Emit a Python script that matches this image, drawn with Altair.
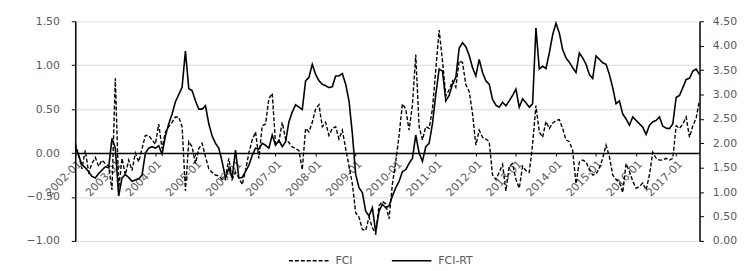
import altair as alt
import pandas as pd

# Monthly observations, 2002-01 .. 2017-08
fci = [
    0.11, -0.02, -0.18, 0.03, -0.22, -0.12, -0.05, -0.15, -0.08, -0.12, -0.15, -0.42,   # 2002
    0.85, -0.40, -0.06, -0.25, -0.08, -0.20, 0.00, -0.10, 0.05, 0.20, 0.20, 0.15,      # 2003
    0.10, 0.33, 0.05, 0.24, 0.30, 0.35, 0.41, 0.41, 0.30, -0.43, 0.13, 0.07,           # 2004
    -0.12, 0.05, 0.11, -0.04, -0.18, -0.22, -0.25, -0.26, -0.30, -0.28, -0.06, -0.30,  # 2005
    -0.22, -0.28, -0.36, -0.20, 0.00, 0.15, 0.24, -0.06, 0.31, 0.33, 0.62, 0.68,       # 2006
    0.10, 0.13, 0.35, 0.16, 0.12, 0.07, 0.05, 0.03, -0.19, 0.28, 0.24, 0.35,           # 2007
    0.50, 0.55, 0.30, 0.35, 0.20, 0.28, 0.30, 0.16, 0.26, 0.05, -0.15, -0.35,          # 2008
    -0.68, -0.73, -0.87, -0.88, -0.73, -0.85, -0.92, -0.60, -0.55, -0.58, -0.75, -0.35,  # 2009
    -0.10, 0.20, 0.56, 0.50, 0.26, 0.55, 1.12, 0.30, 0.15, 0.30, 0.28, 0.50,           # 2010
    0.95, 1.40, 1.05, 0.65, 0.72, 0.82, 0.75, 1.05, 1.03, 0.78, 0.70, 0.45,            # 2011
    0.09, 0.26, 0.18, 0.16, 0.13, -0.25, -0.30, -0.22, -0.13, -0.43, -0.15, -0.12,     # 2012
    -0.30, -0.40, -0.15, -0.20, -0.22, 0.10, 0.54, 0.24, 0.18, 0.36, 0.28, 0.34,       # 2013
    0.37, 0.38, 0.28, 0.15, 0.13, 0.03, -0.35, -0.10, -0.08, -0.10, -0.19, -0.25,      # 2014
    -0.24, -0.17, -0.06, 0.09, -0.04, -0.25, -0.30, -0.33, -0.45, -0.12, -0.21, -0.32,  # 2015
    -0.40, -0.38, -0.34, -0.42, -0.25, 0.01, -0.06, -0.08, -0.08, -0.06, -0.08, -0.06,  # 2016
    0.31, 0.28, 0.33, 0.41, 0.18, 0.31, 0.40, 0.60,                                    # 2017
]
fci_rt = [
    1.93, 1.75, 1.56, 1.50, 1.42, 1.32, 1.29, 1.38, 1.45, 1.52, 1.50, 2.10,  # 2002
    1.90, 0.92, 1.29, 1.36, 1.30, 1.22, 1.25, 1.27, 1.35, 1.80, 1.90, 1.93,  # 2003
    1.90, 1.95, 1.78, 2.15, 2.40, 2.60, 2.85, 3.00, 3.15, 3.89, 3.12, 3.08,  # 2004
    2.87, 2.70, 2.70, 2.77, 2.40, 2.15, 2.00, 1.90, 1.62, 1.29, 1.49, 1.29,  # 2005
    1.86, 1.29, 1.30, 1.42, 1.55, 1.75, 1.90, 1.88, 2.00, 1.96, 1.90, 2.17,  # 2006
    1.96, 2.06, 1.93, 2.03, 2.44, 2.64, 2.79, 2.74, 2.69, 3.28, 3.35, 3.62,  # 2007
    3.41, 3.28, 3.21, 3.18, 3.14, 3.16, 3.38, 3.38, 3.43, 3.21, 2.87, 2.20,  # 2008
    1.36, 1.09, 0.99, 0.61, 0.51, 0.68, 0.18, 0.61, 0.75, 0.68, 0.72, 0.92,  # 2009
    1.09, 1.22, 1.42, 1.46, 1.59, 1.69, 2.17, 1.80, 1.63, 1.93, 2.00, 2.40,  # 2010
    3.00, 3.52, 3.48, 2.87, 2.98, 3.21, 3.35, 3.95, 4.06, 3.98, 3.80, 3.55,  # 2011
    3.38, 3.72, 3.45, 3.28, 3.21, 2.90, 2.78, 2.74, 2.84, 2.77, 2.87, 2.98,  # 2012
    3.11, 2.74, 2.91, 2.83, 2.74, 2.81, 4.36, 3.52, 3.58, 3.53, 3.85, 4.22,  # 2013
    4.46, 4.26, 3.92, 3.75, 3.66, 3.55, 3.45, 3.85, 3.75, 3.62, 3.41, 3.33,  # 2014
    3.79, 3.72, 3.65, 3.62, 3.41, 3.14, 2.81, 2.87, 2.60, 2.50, 2.37, 2.54,  # 2015
    2.47, 2.40, 2.33, 2.18, 2.37, 2.44, 2.47, 2.54, 2.35, 2.31, 2.30, 2.40,  # 2016
    2.94, 2.98, 3.14, 3.31, 3.33, 3.48, 3.52, 3.41,                          # 2017
]
series_names = ["FCI", "FCI-RT"]
start_year = 2002
tick_months = list(range(0, 181, 12))          # 2002-01 ... 2017-01
left_ticks = [-1.0, -0.5, 0.0, 0.5, 1.0, 1.5]
right_ticks = [0.0, 0.5, 1.0, 1.5, 2.0, 2.5, 3.0, 3.5, 4.0, 4.5]

n = len(fci)
df = pd.DataFrame({
    "m": list(range(n)) * 2,
    "value": fci + fci_rt,
    "series": [series_names[0]] * n + [series_names[1]] * n,
})

W, H = 631, 222
FONT = "DejaVu Sans"
GRAY = "#595959"

x_enc = alt.X(
    "m:Q",
    scale=alt.Scale(domain=[0, n - 1], nice=False, zero=False),
    axis=alt.Axis(
        values=tick_months,
        labelExpr=f"toString({start_year} + datum.value/12) + '-01'",
        labelAngle=-45,
        offset=-H * 1.0 / 2.5,
        domainColor="black",
        domainWidth=1.5,
        tickColor="black",
        tickSize=3,
        grid=False,
        title=None,
        labelPadding=2,
    ),
)

dash = alt.StrokeDash(
    "series:N",
    scale=alt.Scale(domain=series_names, range=[[4, 2], [1, 0]]),
    legend=alt.Legend(
        title=None,
        orient="none",
        direction="horizontal",
        legendX=215,
        legendY=221,
        symbolType="stroke",
        symbolSize=1600,
        symbolStrokeWidth=1.5,
        symbolStrokeColor="black",
        columnPadding=36,
        labelOffset=6,
        padding=0,
    ),
)

left = alt.Chart(df).transform_filter(
    alt.datum.series == series_names[0]
).mark_line(color="black", strokeWidth=1.4).encode(
    x=x_enc,
    y=alt.Y(
        "value:Q",
        scale=alt.Scale(domain=[-1.0, 1.5], nice=False, zero=False),
        axis=alt.Axis(
            values=left_ticks, format=".2f", grid=True, gridColor="#d9d9d9",
            gridWidth=1, domainColor="black", domainWidth=1.5, tickColor="black",
            tickSize=4, labelPadding=12, title=None,
        ),
    ),
    strokeDash=dash,
)

right = alt.Chart(df).transform_filter(
    alt.datum.series == series_names[1]
).mark_line(color="black", strokeWidth=1.6).encode(
    x=x_enc,
    y=alt.Y(
        "value:Q",
        scale=alt.Scale(domain=[0.0, 4.5], nice=False, zero=False),
        axis=alt.Axis(
            orient="right", values=right_ticks, format=".2f", grid=False,
            domainColor="black", domainWidth=1.5, tickColor="black",
            tickSize=4, labelPadding=9, title=None,
        ),
    ),
    strokeDash=dash,
)

chart = alt.layer(left, right).resolve_scale(y="independent").properties(
    width=W,
    height=H,
    autosize=alt.AutoSizeParams(type="none"),
    padding={"left": 68, "top": 12, "right": 48, "bottom": 29},
    background="white",
).configure_view(stroke=None).configure_axis(
    labelFont=FONT, labelFontSize=11, labelColor=GRAY,
).configure_legend(
    labelFont=FONT, labelFontSize=11, labelColor=GRAY,
)

chart.save("out.html", embed_options={"renderer": "svg", "actions": False})
